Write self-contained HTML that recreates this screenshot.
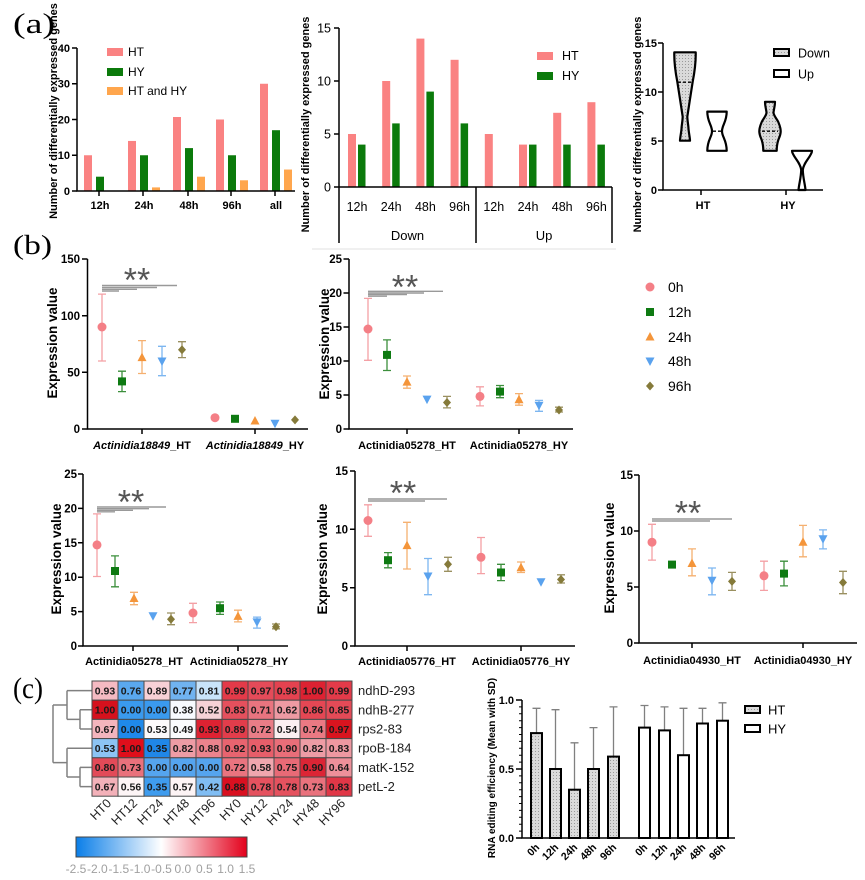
<!DOCTYPE html>
<html><head><meta charset="utf-8"><style>
html,body{margin:0;padding:0;background:#fff;}
svg{display:block;font-family:"Liberation Sans",Arial,sans-serif;}
</style></head><body>
<svg width="865" height="880" viewBox="0 0 865 880" xmlns="http://www.w3.org/2000/svg">
<defs>
<pattern id="dots" width="3" height="3" patternUnits="userSpaceOnUse"><rect width="3" height="3" fill="#dadada"/><rect x="1" y="1" width="1" height="1" fill="#9a9a9a"/></pattern>
<circle id="m0" r="4.5" fill="#F47F86"/>
<rect id="m1" x="-4" y="-4" width="8" height="8" fill="#0E7A12"/>
<polygon id="m2" points="0,-5 -4.5,3.5 4.5,3.5" fill="#F4953A"/>
<polygon id="m3" points="-4.5,-3.5 4.5,-3.5 0,5" fill="#5AA2EE"/>
<polygon id="m4" points="0,-4.5 4,0 0,4.5 -4,0" fill="#857A3A"/>
<linearGradient id="cb" x1="0" x2="1" y1="0" y2="0"><stop offset="0" stop-color="#0A7EE8"/><stop offset="0.5" stop-color="#ffffff"/><stop offset="1" stop-color="#E3001B"/></linearGradient>
</defs>

<!-- panel labels -->
<text x="13" y="33" font-family="Liberation Serif, serif" font-size="29" textLength="42" lengthAdjust="spacingAndGlyphs">(a)</text>
<text x="13" y="254" font-family="Liberation Serif, serif" font-size="27" textLength="39" lengthAdjust="spacingAndGlyphs">(b)</text>
<text x="13" y="698" font-family="Liberation Serif, serif" font-size="30" textLength="30" lengthAdjust="spacingAndGlyphs">(c)</text>

<!-- ===== (a) left ===== -->
<g fill="#FA8282">
<rect x="84" y="155.25" width="8" height="35.75"/><rect x="128" y="140.95" width="8" height="50.05"/><rect x="173" y="117" width="8" height="74"/><rect x="216" y="119.5" width="8" height="71.5"/><rect x="260" y="83.75" width="8" height="107.25"/>
</g>
<g fill="#0B7A0B">
<rect x="96" y="176.7" width="8" height="14.3"/><rect x="140" y="155.25" width="8" height="35.75"/><rect x="185" y="148.1" width="8" height="42.9"/><rect x="228" y="155.25" width="8" height="35.75"/><rect x="272" y="130.2" width="8" height="60.8"/>
</g>
<g fill="#FFA64D">
<rect x="152" y="187.4" width="8" height="3.6"/><rect x="197" y="176.7" width="8" height="14.3"/><rect x="240" y="180.3" width="8" height="10.7"/><rect x="284" y="169.55" width="8" height="21.45"/>
</g>
<g stroke="#000" stroke-width="1.5" fill="none">
<path d="M77,48V191H295"/>
<path d="M72,48H77M72,83.75H77M72,119.5H77M72,155.25H77M72,191H77"/>
<path d="M99,191V196M143,191V196M188,191V196M231,191V196M275,191V196"/>
</g>
<g font-size="11" font-weight="bold" text-anchor="end">
<text x="70" y="52">40</text><text x="70" y="87.5">30</text><text x="70" y="123.5">20</text><text x="70" y="159">10</text><text x="70" y="195">0</text>
</g>
<g font-size="11" font-weight="bold" text-anchor="middle">
<text x="100" y="209">12h</text><text x="144" y="209">24h</text><text x="189" y="209">48h</text><text x="232" y="209">96h</text><text x="276" y="209">all</text>
</g>
<rect x="107" y="48" width="16" height="8" fill="#FA8282"/>
<rect x="107" y="68" width="16" height="8" fill="#0B7A0B"/>
<rect x="107" y="87" width="16" height="8" fill="#FFA64D"/>
<g font-size="12"><text x="128" y="56">HT</text><text x="128" y="76">HY</text><text x="128" y="95">HT and HY</text></g>
<text transform="translate(57,111) rotate(-90)" text-anchor="middle" font-size="11" font-weight="bold">Number of differentially expressed genes</text>

<!-- ===== (a) middle ===== -->
<g fill="#FA8282">
<rect x="348" y="134" width="8" height="53"/><rect x="382.2" y="81" width="8" height="106"/><rect x="416.4" y="38.6" width="8" height="148.4"/><rect x="450.6" y="59.8" width="8" height="127.2"/>
<rect x="484.8" y="134" width="8" height="53"/><rect x="519" y="144.6" width="8" height="42.4"/><rect x="553.2" y="112.8" width="8" height="74.2"/><rect x="587.4" y="102.2" width="8" height="84.8"/>
</g>
<g fill="#0B7A0B">
<rect x="358" y="144.6" width="7.5" height="42.4"/><rect x="392.2" y="123.4" width="7.5" height="63.6"/><rect x="426.4" y="91.6" width="7.5" height="95.4"/><rect x="460.6" y="123.4" width="7.5" height="63.6"/>
<rect x="529" y="144.6" width="7.5" height="42.4"/><rect x="563.2" y="144.6" width="7.5" height="42.4"/><rect x="597.4" y="144.6" width="7.5" height="42.4"/>
</g>
<g stroke="#000" stroke-width="1.5" fill="none">
<path d="M339,28V243M339,187H612M476,187V243M612,187V243"/>
<path d="M334,28H339M334,81H339M334,134H339M334,187H339"/>
</g>
<line x1="312" y1="249" x2="616" y2="249" stroke="#e2e2e2" stroke-width="1"/>
<g font-size="12.5" text-anchor="end">
<text x="331" y="32.5">15</text><text x="331" y="85.5">10</text><text x="331" y="138.5">5</text><text x="331" y="191.5">0</text>
</g>
<g font-size="12.5" text-anchor="middle">
<text x="357" y="211">12h</text><text x="391.2" y="211">24h</text><text x="425.4" y="211">48h</text><text x="459.6" y="211">96h</text>
<text x="493.8" y="211">12h</text><text x="528" y="211">24h</text><text x="562.2" y="211">48h</text><text x="596.4" y="211">96h</text>
<text x="407.5" y="240" font-size="13">Down</text><text x="544" y="240" font-size="13">Up</text>
</g>
<rect x="537" y="52" width="16" height="8" fill="#FA8282"/>
<rect x="537" y="72" width="16" height="8" fill="#0B7A0B"/>
<g font-size="12.5"><text x="562" y="60">HT</text><text x="562" y="80">HY</text></g>
<text transform="translate(309,124.5) rotate(-90)" text-anchor="middle" font-size="11" font-weight="bold">Number of differentially expressed genes</text>

<!-- ===== (a) right ===== -->
<g stroke="#000" stroke-width="2.2" stroke-linejoin="round">
<path fill="url(#dots)" d="M674.3,52.3 L695.7,52.3 C695.9,60 695,70 692.7,81.7 C691,92 689,106 687.3,116.7 C687.5,122 688.5,126 688.5,129 C689,134 690,138 690,140.7 L680,140.7 C680,138 681,134 681.5,129 C681.5,126 682.5,122 682.7,116.7 C681,106 679,92 677.3,81.7 C675,70 674.1,60 674.3,52.3 Z"/>
<path fill="#fff" d="M707.3,111.6 L726.7,111.6 C726.7,122 722,125 722,131.2 C722,137 726.7,140 726.7,150.8 L707.3,150.8 C707.3,140 712,137 712,131.2 C712,125 707.3,122 707.3,111.6 Z"/>
<path fill="url(#dots)" d="M765,101.8 L775,101.8 C775,107 773.5,110 773.5,113 C774.5,117 777,119 778.3,122 C780,126 780.7,128 780.7,131.2 C780.7,135 779,138 778.3,140 C777,144 776.7,147 776.7,150.8 L763.3,150.8 C763.3,147 763,144 761.7,140 C761,138 759.3,135 759.3,131.2 C759.3,128 760,126 761.7,122 C763,119 765.5,117 766.5,113 C766.5,110 765,107 765,101.8 Z"/>
<path fill="#fff" d="M792,150.8 L812,150.8 C812,156 803.5,162 802.8,170 C803,178 805,184 805.5,190 L798.5,190 C799,184 801,178 801.2,170 C800.5,162 792,156 792,150.8 Z"/>
</g>
<g stroke="#000" stroke-width="1.3" stroke-dasharray="3,2">
<path d="M678,82.2H692M713,131.2H721M762,131.2H778"/>
</g>
<g stroke="#000" stroke-width="1.5" fill="none">
<path d="M663,43V190H823"/>
<path d="M658,43H663M658,92H663M658,141H663M658,190H663"/>
<path d="M701,190V195M786,190V195"/>
</g>
<g font-size="11" font-weight="bold" text-anchor="end">
<text x="657" y="47">15</text><text x="657" y="96">10</text><text x="657" y="145">5</text><text x="657" y="194">0</text>
</g>
<g font-size="11" font-weight="bold" text-anchor="middle"><text x="703" y="209">HT</text><text x="788" y="209">HY</text></g>
<rect x="774" y="49" width="15" height="7" fill="url(#dots)" stroke="#000" stroke-width="2"/>
<rect x="774" y="70" width="15" height="7" fill="#fff" stroke="#000" stroke-width="2"/>
<g font-size="12.5"><text x="798" y="57.5">Down</text><text x="798" y="78.5">Up</text></g>
<text transform="translate(641,124.5) rotate(-90)" text-anchor="middle" font-size="11" font-weight="bold">Number of differentially expressed genes</text>

<!-- ===== (b) top-left ===== -->
<g stroke="#000" stroke-width="1.5" fill="none">
<path d="M87.5,259V429H308"/>
<path d="M82,259H87.5M82,315.7H87.5M82,372.3H87.5M82,429H87.5"/>
<path d="M142,429V434M255,429V434"/>
</g>
<g font-size="11.5" font-weight="bold" text-anchor="end">
<text x="80" y="263">150</text><text x="80" y="320">100</text><text x="80" y="376.5">50</text><text x="80" y="433">0</text>
</g>
<g font-size="11" font-weight="bold" text-anchor="middle">
<text x="142" y="449"><tspan font-style="italic">Actinidia18849</tspan>_HT</text>
<text x="255" y="449"><tspan font-style="italic">Actinidia18849</tspan>_HY</text>
</g>
<text transform="translate(57,343) rotate(-90)" text-anchor="middle" font-size="13.5" font-weight="bold">Expression value</text>
<g stroke-width="1.3" fill="none">
<path stroke="#F4A0A5" d="M102,361V294.1M98,361H106M98,294.1H106"/>
<path stroke="#3C8F3C" d="M122,391.6V371.2M118,391.6H126M118,371.2H126"/>
<path stroke="#F5B070" d="M142,373.5V340.6M138,373.5H146M138,340.6H146"/>
<path stroke="#7DB6F0" d="M162,375.7V346.3M158,375.7H166M158,346.3H166"/>
<path stroke="#9A9060" d="M182,357.6V341.7M178,357.6H186M178,341.7H186"/>
</g>
<use href="#m0" x="102" y="327"/><use href="#m1" x="122" y="381.4"/><use href="#m2" x="142" y="357.6"/><use href="#m3" x="162" y="361"/><use href="#m4" x="182" y="349.7"/>
<use href="#m0" x="215" y="417.7"/><use href="#m1" x="235" y="418.8"/><use href="#m2" x="255" y="421"/><use href="#m3" x="275" y="423.3"/><use href="#m4" x="295" y="419.9"/>
<g stroke="#999" stroke-width="1.4"><path d="M102,285.5H177M102,287.5H157M102,289.3H137M102,291H119"/></g>
<text x="137" y="291.5" text-anchor="middle" font-size="34" fill="#555">**</text>

<!-- top-middle -->
<g stroke="#000" stroke-width="1.5" fill="none">
<path d="M349,259V429H573"/>
<path d="M343.5,259H349M343.5,293H349M343.5,327H349M343.5,361H349M343.5,395H349M343.5,429H349"/>
<path d="M407,429V434M519,429V434"/>
</g>
<g font-size="11.5" font-weight="bold" text-anchor="end">
<text x="342" y="263">25</text><text x="342" y="297">20</text><text x="342" y="331">15</text><text x="342" y="365">10</text><text x="342" y="399">5</text><text x="342" y="433">0</text>
</g>
<g font-size="11" font-weight="bold" text-anchor="middle">
<text x="407" y="449">Actinidia05278_HT</text><text x="519" y="449">Actinidia05278_HY</text>
</g>
<text transform="translate(329,344) rotate(-90)" text-anchor="middle" font-size="13.5" font-weight="bold">Expression value</text>
<g stroke-width="1.3" fill="none">
<path stroke="#F4A0A5" d="M368,360.3V298.4M364,360.3H372M364,298.4H372"/>
<path stroke="#3C8F3C" d="M387,370.5V339.9M383,370.5H391M383,339.9H391"/>
<path stroke="#F5B070" d="M407,388.2V376M403,388.2H411M403,376H411"/>
<path stroke="#9A9060" d="M447,407.9V396.4M443,407.9H451M443,396.4H451"/>
<path stroke="#F4A0A5" d="M480,405.9V386.8M476,405.9H484M476,386.8H484"/>
<path stroke="#3C8F3C" d="M500,397.7V385.5M496,397.7H504M496,385.5H504"/>
<path stroke="#F5B070" d="M519,405.2V393.6M515,405.2H523M515,393.6H523"/>
<path stroke="#7DB6F0" d="M539,411.3V400.4M535,411.3H543M535,400.4H543"/>
<path stroke="#9A9060" d="M559,412V407.2M555,412H563M555,407.2H563"/>
</g>
<use href="#m0" x="368" y="329"/><use href="#m1" x="387" y="354.9"/><use href="#m2" x="407" y="382.1"/><use href="#m3" x="427" y="399.1"/><use href="#m4" x="447" y="402.5"/>
<use href="#m0" x="480" y="396.4"/><use href="#m1" x="500" y="391.6"/><use href="#m2" x="519" y="399.8"/><use href="#m3" x="539" y="405.2"/><use href="#m4" x="559" y="410"/>
<g stroke="#999" stroke-width="1.4"><path d="M368,291.3H443M368,293H424M368,294.6H407M368,296.2H387"/></g>
<text x="405" y="298.5" text-anchor="middle" font-size="34" fill="#555">**</text>

<!-- legend (b) -->
<use href="#m0" x="650" y="287"/><use href="#m1" x="650" y="312"/><use href="#m2" x="650" y="337"/><use href="#m3" x="650" y="361"/><use href="#m4" x="650" y="386"/>
<g font-size="14"><text x="668" y="292">0h</text><text x="668" y="317">12h</text><text x="668" y="342">24h</text><text x="668" y="366">48h</text><text x="668" y="391">96h</text></g>

<!-- bottom-left -->
<g stroke="#000" stroke-width="1.5" fill="none">
<path d="M83,474V646H288"/>
<path d="M78,474H83M78,508.4H83M78,542.8H83M78,577.2H83M78,611.6H83M78,646H83"/>
<path d="M133,646V651M238,646V651"/>
</g>
<g font-size="11.5" font-weight="bold" text-anchor="end">
<text x="77" y="478">25</text><text x="77" y="512.4">20</text><text x="77" y="546.8">15</text><text x="77" y="581.2">10</text><text x="77" y="615.6">5</text><text x="77" y="650">0</text>
</g>
<g font-size="11" font-weight="bold" text-anchor="middle">
<text x="134" y="665">Actinidia05278_HT</text><text x="239" y="665">Actinidia05278_HY</text>
</g>
<text transform="translate(61,559) rotate(-90)" text-anchor="middle" font-size="13.5" font-weight="bold">Expression value</text>
<g stroke-width="1.3" fill="none">
<path stroke="#F4A0A5" d="M97,576.5V513.9M93,576.5H101M93,513.9H101"/>
<path stroke="#3C8F3C" d="M115,586.8V555.9M111,586.8H119M111,555.9H119"/>
<path stroke="#F5B070" d="M134,604.7V592.3M130,604.7H138M130,592.3H138"/>
<path stroke="#9A9060" d="M171,624.7V613M167,624.7H175M167,613H175"/>
<path stroke="#F4A0A5" d="M193,622.6V603.3M189,622.6H197M189,603.3H197"/>
<path stroke="#3C8F3C" d="M220,614.4V602M216,614.4H224M216,602H224"/>
<path stroke="#F5B070" d="M238,621.9V610.2M234,621.9H242M234,610.2H242"/>
<path stroke="#7DB6F0" d="M257,628.1V617.1M253,628.1H261M253,617.1H261"/>
<path stroke="#9A9060" d="M276,628.8V624M272,628.8H280M272,624H280"/>
</g>
<use href="#m0" x="97" y="544.9"/><use href="#m1" x="115" y="571"/><use href="#m2" x="134" y="598.5"/><use href="#m3" x="153" y="615.7"/><use href="#m4" x="171" y="619.2"/>
<use href="#m0" x="193" y="613"/><use href="#m1" x="220" y="608.2"/><use href="#m2" x="238" y="616.4"/><use href="#m3" x="257" y="621.9"/><use href="#m4" x="276" y="626.7"/>
<g stroke="#999" stroke-width="1.4"><path d="M97,507H166M97,508.7H149M97,510.3H133M97,511.8H115"/></g>
<text x="131" y="513.5" text-anchor="middle" font-size="34" fill="#555">**</text>

<!-- bottom-middle -->
<g stroke="#000" stroke-width="1.5" fill="none">
<path d="M355,471V646H575"/>
<path d="M350,471H355M350,529.3H355M350,587.7H355M350,646H355"/>
<path d="M407,646V651M521,646V651"/>
</g>
<g font-size="11.5" font-weight="bold" text-anchor="end">
<text x="348" y="475">15</text><text x="348" y="533.3">10</text><text x="348" y="591.7">5</text><text x="348" y="650">0</text>
</g>
<g font-size="11" font-weight="bold" text-anchor="middle">
<text x="407" y="665">Actinidia05776_HT</text><text x="521" y="665">Actinidia05776_HY</text>
</g>
<text transform="translate(327,559) rotate(-90)" text-anchor="middle" font-size="13.5" font-weight="bold">Expression value</text>
<g stroke-width="1.3" fill="none">
<path stroke="#F4A0A5" d="M368,536.3V504.8M364,536.3H372M364,504.8H372"/>
<path stroke="#3C8F3C" d="M388,567.8V552.6M384,567.8H392M384,552.6H392"/>
<path stroke="#F5B070" d="M407,569V522.3M403,569H411M403,522.3H411"/>
<path stroke="#7DB6F0" d="M428,594.7V558.5M424,594.7H432M424,558.5H432"/>
<path stroke="#9A9060" d="M448,571.3V557.3M444,571.3H452M444,557.3H452"/>
<path stroke="#F4A0A5" d="M481,573.6V537.5M477,573.6H485M477,537.5H485"/>
<path stroke="#3C8F3C" d="M501,580.6V564.3M497,580.6H505M497,564.3H505"/>
<path stroke="#F5B070" d="M521,572.5V562M517,572.5H525M517,562H525"/>
<path stroke="#9A9060" d="M561,583V574.8M557,583H565M557,574.8H565"/>
</g>
<use href="#m0" x="368" y="520.5"/><use href="#m1" x="388" y="560.2"/><use href="#m2" x="407" y="545.6"/><use href="#m3" x="428" y="576"/><use href="#m4" x="448" y="564.3"/>
<use href="#m0" x="481" y="557.3"/><use href="#m1" x="501" y="572.5"/><use href="#m2" x="521" y="567.8"/><use href="#m3" x="541" y="581.8"/><use href="#m4" x="561" y="579.5"/>
<g stroke="#999" stroke-width="1.4"><path d="M368,499H447M368,501H425"/></g>
<text x="403" y="504.5" text-anchor="middle" font-size="34" fill="#555">**</text>

<!-- bottom-right -->
<g stroke="#000" stroke-width="1.5" fill="none">
<path d="M639,475V643H857"/>
<path d="M634,475H639M634,531H639M634,587H639M634,643H639"/>
<path d="M692,643V648M803,643V648"/>
</g>
<g font-size="11.5" font-weight="bold" text-anchor="end">
<text x="633" y="479">15</text><text x="633" y="535">10</text><text x="633" y="591">5</text><text x="633" y="647">0</text>
</g>
<g font-size="11" font-weight="bold" text-anchor="middle">
<text x="692" y="664">Actinidia04930_HT</text><text x="803" y="664">Actinidia04930_HY</text>
</g>
<text transform="translate(614,558) rotate(-90)" text-anchor="middle" font-size="13.5" font-weight="bold">Expression value</text>
<g stroke-width="1.3" fill="none">
<path stroke="#F4A0A5" d="M652,560.1V524.3M648,560.1H656M648,524.3H656"/>
<path stroke="#F5B070" d="M692,575.8V548.9M688,575.8H696M688,548.9H696"/>
<path stroke="#7DB6F0" d="M712,594.8V568M708,594.8H716M708,568H716"/>
<path stroke="#9A9060" d="M732,590.4V572.4M728,590.4H736M728,572.4H736"/>
<path stroke="#F4A0A5" d="M764,590.4V561.2M760,590.4H768M760,561.2H768"/>
<path stroke="#3C8F3C" d="M784,585.9V561.2M780,585.9H788M780,561.2H788"/>
<path stroke="#F5B070" d="M803,556.8V525.4M799,556.8H807M799,525.4H807"/>
<path stroke="#7DB6F0" d="M823,548.9V529.9M819,548.9H827M819,529.9H827"/>
<path stroke="#9A9060" d="M843,593.7V571.3M839,593.7H847M839,571.3H847"/>
</g>
<use href="#m0" x="652" y="542.2"/><use href="#m1" x="672" y="564.6"/><use href="#m2" x="692" y="563.5"/><use href="#m3" x="712" y="580.3"/><use href="#m4" x="732" y="581.4"/>
<use href="#m0" x="764" y="575.8"/><use href="#m1" x="784" y="573.6"/><use href="#m2" x="803" y="542.2"/><use href="#m3" x="823" y="538.8"/><use href="#m4" x="843" y="582.5"/>
<g stroke="#999" stroke-width="1.4"><path d="M652,519H732M652,521H710"/></g>
<text x="688" y="524.5" text-anchor="middle" font-size="34" fill="#555">**</text>

<!-- ===== (c) heatmap ===== -->
<g stroke="#808080" stroke-width="1.5" fill="none">
<path d="M67,690.6H92M80,709.8H92M80,729H92M67,748.2H92M80,767.4H92M80,786.6H92"/>
<path d="M80,709.8V729M67,719.4H80M67,690.6V719.4M53,705H67"/>
<path d="M80,767.4V786.6M67,777H80M67,748.2V777M53,762.6H67M53,705V762.6"/>
</g>
<g stroke="#4a4a4a" stroke-width="1">
<rect x="92" y="681" width="26" height="19.2" fill="#F5BAC2"/><rect x="118" y="681" width="26" height="19.2" fill="#5AA8EE"/><rect x="144" y="681" width="26" height="19.2" fill="#F7D0D6"/><rect x="170" y="681" width="26" height="19.2" fill="#70B3F0"/><rect x="196" y="681" width="26" height="19.2" fill="#C9E4FA"/><rect x="222" y="681" width="26" height="19.2" fill="#E33A49"/><rect x="248" y="681" width="26" height="19.2" fill="#E54B59"/><rect x="274" y="681" width="26" height="19.2" fill="#E44250"/><rect x="300" y="681" width="26" height="19.2" fill="#DD2232"/><rect x="326" y="681" width="26" height="19.2" fill="#E33A49"/>
<rect x="92" y="700.2" width="26" height="19.2" fill="#D5111D"/><rect x="118" y="700.2" width="26" height="19.2" fill="#3A9AEE"/><rect x="144" y="700.2" width="26" height="19.2" fill="#3A9AEE"/><rect x="170" y="700.2" width="26" height="19.2" fill="#F7FAFE"/><rect x="196" y="700.2" width="26" height="19.2" fill="#F6D2D7"/><rect x="222" y="700.2" width="26" height="19.2" fill="#E5505D"/><rect x="248" y="700.2" width="26" height="19.2" fill="#E9747F"/><rect x="274" y="700.2" width="26" height="19.2" fill="#EE9AA3"/><rect x="300" y="700.2" width="26" height="19.2" fill="#E44754"/><rect x="326" y="700.2" width="26" height="19.2" fill="#E44A57"/>
<rect x="92" y="719.4" width="26" height="19.2" fill="#F4B5BD"/><rect x="118" y="719.4" width="26" height="19.2" fill="#1F89EA"/><rect x="144" y="719.4" width="26" height="19.2" fill="#FCF9FA"/><rect x="170" y="719.4" width="26" height="19.2" fill="#FAFBFD"/><rect x="196" y="719.4" width="26" height="19.2" fill="#DE2232"/><rect x="222" y="719.4" width="26" height="19.2" fill="#E23D4B"/><rect x="248" y="719.4" width="26" height="19.2" fill="#EA7D87"/><rect x="274" y="719.4" width="26" height="19.2" fill="#FBEFF1"/><rect x="300" y="719.4" width="26" height="19.2" fill="#EA7983"/><rect x="326" y="719.4" width="26" height="19.2" fill="#D9141F"/>
<rect x="92" y="738.6" width="26" height="19.2" fill="#8CC4F4"/><rect x="118" y="738.6" width="26" height="19.2" fill="#E00E1B"/><rect x="144" y="738.6" width="26" height="19.2" fill="#2087E8"/><rect x="170" y="738.6" width="26" height="19.2" fill="#EE9CA5"/><rect x="196" y="738.6" width="26" height="19.2" fill="#EB838D"/><rect x="222" y="738.6" width="26" height="19.2" fill="#E8646F"/><rect x="248" y="738.6" width="26" height="19.2" fill="#E75E6A"/><rect x="274" y="738.6" width="26" height="19.2" fill="#E96E79"/><rect x="300" y="738.6" width="26" height="19.2" fill="#EE9CA5"/><rect x="326" y="738.6" width="26" height="19.2" fill="#EE98A1"/>
<rect x="92" y="757.8" width="26" height="19.2" fill="#E24A58"/><rect x="118" y="757.8" width="26" height="19.2" fill="#E9717C"/><rect x="144" y="757.8" width="26" height="19.2" fill="#55A4EE"/><rect x="170" y="757.8" width="26" height="19.2" fill="#55A4EE"/><rect x="196" y="757.8" width="26" height="19.2" fill="#55A4EE"/><rect x="222" y="757.8" width="26" height="19.2" fill="#E9747F"/><rect x="248" y="757.8" width="26" height="19.2" fill="#F0A6AE"/><rect x="274" y="757.8" width="26" height="19.2" fill="#E86A76"/><rect x="300" y="757.8" width="26" height="19.2" fill="#DC2535"/><rect x="326" y="757.8" width="26" height="19.2" fill="#EE909A"/>
<rect x="92" y="777" width="26" height="19.2" fill="#F3B1B9"/><rect x="118" y="777" width="26" height="19.2" fill="#FDF5F6"/><rect x="144" y="777" width="26" height="19.2" fill="#3F9CEE"/><rect x="170" y="777" width="26" height="19.2" fill="#FDF4F5"/><rect x="196" y="777" width="26" height="19.2" fill="#80BDF3"/><rect x="222" y="777" width="26" height="19.2" fill="#D91020"/><rect x="248" y="777" width="26" height="19.2" fill="#E5525F"/><rect x="274" y="777" width="26" height="19.2" fill="#E5525F"/><rect x="300" y="777" width="26" height="19.2" fill="#E9727D"/><rect x="326" y="777" width="26" height="19.2" fill="#E13747"/>
</g>
<g font-size="10.5" font-weight="bold" text-anchor="middle" fill="#1a1a1a">
<text x="105" y="694.4">0.93</text><text x="131" y="694.4">0.76</text><text x="157" y="694.4">0.89</text><text x="183" y="694.4">0.77</text><text x="209" y="694.4">0.81</text><text x="235" y="694.4">0.99</text><text x="261" y="694.4">0.97</text><text x="287" y="694.4">0.98</text><text x="313" y="694.4">1.00</text><text x="339" y="694.4">0.99</text>
<text x="105" y="713.6">1.00</text><text x="131" y="713.6">0.00</text><text x="157" y="713.6">0.00</text><text x="183" y="713.6">0.38</text><text x="209" y="713.6">0.52</text><text x="235" y="713.6">0.83</text><text x="261" y="713.6">0.71</text><text x="287" y="713.6">0.62</text><text x="313" y="713.6">0.86</text><text x="339" y="713.6">0.85</text>
<text x="105" y="732.8">0.67</text><text x="131" y="732.8">0.00</text><text x="157" y="732.8">0.53</text><text x="183" y="732.8">0.49</text><text x="209" y="732.8">0.93</text><text x="235" y="732.8">0.89</text><text x="261" y="732.8">0.72</text><text x="287" y="732.8">0.54</text><text x="313" y="732.8">0.74</text><text x="339" y="732.8">0.97</text>
<text x="105" y="752">0.53</text><text x="131" y="752">1.00</text><text x="157" y="752">0.35</text><text x="183" y="752">0.82</text><text x="209" y="752">0.88</text><text x="235" y="752">0.92</text><text x="261" y="752">0.93</text><text x="287" y="752">0.90</text><text x="313" y="752">0.82</text><text x="339" y="752">0.83</text>
<text x="105" y="771.2">0.80</text><text x="131" y="771.2">0.73</text><text x="157" y="771.2">0.00</text><text x="183" y="771.2">0.00</text><text x="209" y="771.2">0.00</text><text x="235" y="771.2">0.72</text><text x="261" y="771.2">0.58</text><text x="287" y="771.2">0.75</text><text x="313" y="771.2">0.90</text><text x="339" y="771.2">0.64</text>
<text x="105" y="790.4">0.67</text><text x="131" y="790.4">0.56</text><text x="157" y="790.4">0.35</text><text x="183" y="790.4">0.57</text><text x="209" y="790.4">0.42</text><text x="235" y="790.4">0.88</text><text x="261" y="790.4">0.78</text><text x="287" y="790.4">0.78</text><text x="313" y="790.4">0.73</text><text x="339" y="790.4">0.83</text>
</g>
<g font-size="13" fill="#222">
<text x="358" y="695">ndhD-293</text><text x="358" y="714.3">ndhB-277</text><text x="358" y="733.5">rps2-83</text><text x="358" y="752.7">rpoB-184</text><text x="358" y="771.9">matK-152</text><text x="358" y="791.1">petL-2</text>
</g>
<g font-size="12.5" fill="#222" text-anchor="end">
<text transform="translate(112,804) rotate(-45)">HT0</text><text transform="translate(138,804) rotate(-45)">HT12</text><text transform="translate(164,804) rotate(-45)">HT24</text><text transform="translate(190,804) rotate(-45)">HT48</text><text transform="translate(216,804) rotate(-45)">HT96</text>
<text transform="translate(242,804) rotate(-45)">HY0</text><text transform="translate(268,804) rotate(-45)">HY12</text><text transform="translate(294,804) rotate(-45)">HY24</text><text transform="translate(320,804) rotate(-45)">HY48</text><text transform="translate(346,804) rotate(-45)">HY96</text>
</g>
<rect x="76" y="837" width="171" height="20" fill="url(#cb)" stroke="#444" stroke-width="1"/>
<g font-size="12" fill="#a0a0a0" text-anchor="middle">
<text x="76" y="873">-2.5</text><text x="97.4" y="873">-2.0</text><text x="118.8" y="873">-1.5</text><text x="140.1" y="873">-1.0</text><text x="161.5" y="873">-0.5</text><text x="182.9" y="873">0.0</text><text x="204.3" y="873">0.5</text><text x="225.6" y="873">1.0</text><text x="247" y="873">1.5</text>
</g>

<!-- ===== (c) bar chart ===== -->
<g stroke="#808080" stroke-width="1.3" fill="none">
<path d="M536.5,733.1V708.3M532.5,708.3H540.5"/>
<path d="M555.5,769V709.7M551.5,709.7H559.5"/>
<path d="M574.5,789.7V742.8M570.5,742.8H578.5"/>
<path d="M593.5,769V727.6M589.5,727.6H597.5"/>
<path d="M613.5,756.6V706.9M609.5,706.9H617.5"/>
<path d="M644.5,727.6V705.5M640.5,705.5H648.5"/>
<path d="M664.5,730.4V706.9M660.5,706.9H668.5"/>
<path d="M683.5,755.2V708.3M679.5,708.3H687.5"/>
<path d="M702.5,723.5V708.3M698.5,708.3H706.5"/>
<path d="M722.5,720.7V702.8M718.5,702.8H726.5"/>
</g>
<g stroke="#000" stroke-width="2">
<rect x="531" y="733.1" width="11" height="104.9" fill="url(#dots)"/>
<rect x="550" y="769" width="11" height="69" fill="url(#dots)"/>
<rect x="569" y="789.7" width="11" height="48.3" fill="url(#dots)"/>
<rect x="588" y="769" width="11" height="69" fill="url(#dots)"/>
<rect x="608" y="756.6" width="11" height="81.4" fill="url(#dots)"/>
<rect x="639" y="727.6" width="11" height="110.4" fill="#fff"/>
<rect x="659" y="730.4" width="11" height="107.6" fill="#fff"/>
<rect x="678" y="755.2" width="11" height="82.8" fill="#fff"/>
<rect x="697" y="723.5" width="11" height="114.5" fill="#fff"/>
<rect x="717" y="720.7" width="11" height="117.3" fill="#fff"/>
</g>
<g stroke="#000" stroke-width="1.5" fill="none">
<path d="M522,700V838H735"/>
<path d="M516,700H522M516,769H522M516,838H522"/>
<path d="M519,831.1H522M519,824.2H522M519,817.3H522M519,810.4H522M519,803.5H522M519,796.6H522M519,789.7H522M519,782.8H522M519,775.9H522M519,762.1H522M519,755.2H522M519,748.3H522M519,741.4H522M519,734.5H522M519,727.6H522M519,720.7H522M519,713.8H522M519,706.9H522" stroke-width="1"/>
</g>
<g font-size="11" font-weight="bold" text-anchor="end">
<text x="514" y="704">1.0</text><text x="514" y="773">0.5</text><text x="514" y="842">0.0</text>
</g>
<g font-size="10.5" font-weight="bold" text-anchor="end">
<text transform="translate(540,848) rotate(-45)">0h</text><text transform="translate(559,848) rotate(-45)">12h</text><text transform="translate(578,848) rotate(-45)">24h</text><text transform="translate(597,848) rotate(-45)">48h</text><text transform="translate(617,848) rotate(-45)">96h</text>
<text transform="translate(648,848) rotate(-45)">0h</text><text transform="translate(668,848) rotate(-45)">12h</text><text transform="translate(687,848) rotate(-45)">24h</text><text transform="translate(706,848) rotate(-45)">48h</text><text transform="translate(726,848) rotate(-45)">96h</text>
</g>
<text transform="translate(495,768) rotate(-90)" text-anchor="middle" font-size="10" font-weight="bold">RNA editing efficiency (Mean with SD)</text>
<rect x="745" y="706" width="15" height="7" fill="url(#dots)" stroke="#000" stroke-width="2"/>
<rect x="745" y="725" width="15" height="7" fill="#fff" stroke="#000" stroke-width="2"/>
<g font-size="13"><text x="768" y="714.5">HT</text><text x="768" y="733.5">HY</text></g>
</svg>
</body></html>
